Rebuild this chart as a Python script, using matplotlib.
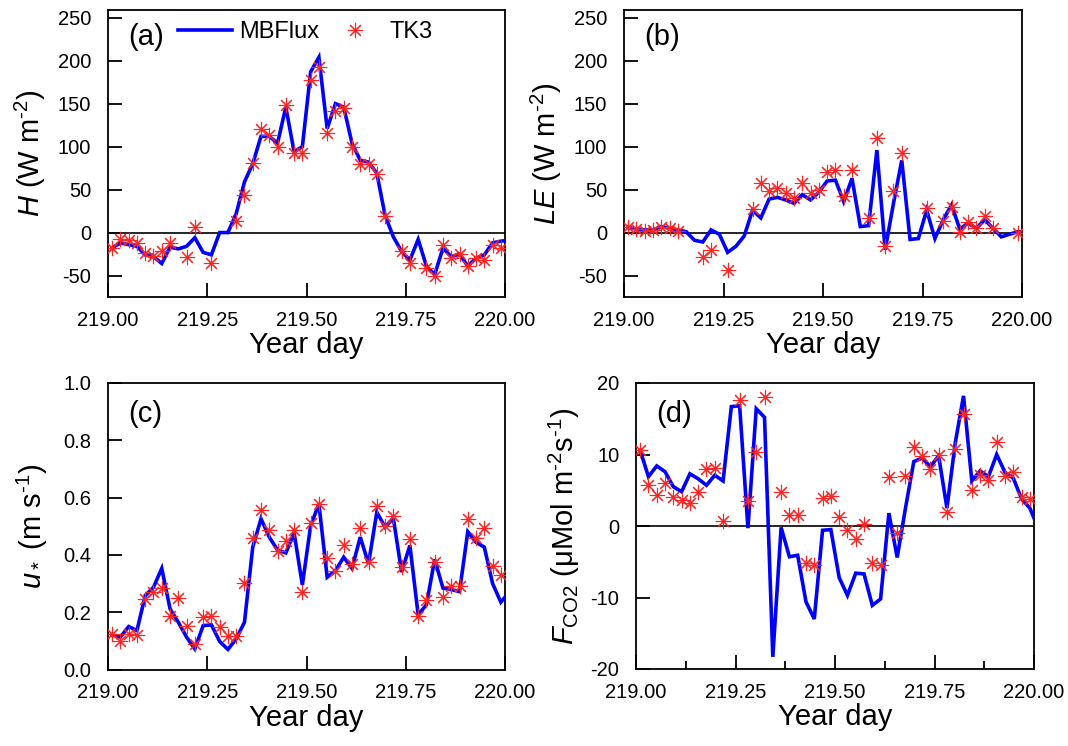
import numpy as np
import matplotlib
matplotlib.use("Agg")
import matplotlib.pyplot as plt
from matplotlib.ticker import MultipleLocator, FormatStrFormatter

plt.rcParams['font.family'] = ['Liberation Sans', 'DejaVu Sans']
plt.rcParams['mathtext.fontset'] = 'custom'
plt.rcParams['mathtext.rm'] = 'Liberation Sans'
plt.rcParams['mathtext.it'] = 'Liberation Sans:italic'
plt.rcParams['mathtext.bf'] = 'Liberation Sans:bold'

nan = np.nan
# half-hourly time stamps (centre of each 30-min interval)
time_line = 219 + (np.arange(49) + 0.5) / 48
time_pts = time_line[:48]

H_mbflux = [-18, -12, -14, -16, -26, -28, -36, -17, -19, -16,
            -6, -23, -26, 0, 0, 22, 59, 80, 112, 112,
            104, 146, 94, 100, 187, 204, 121, 150, 146, 104,
            84, 82, 69, 20, -5, -22, -32, -8, -39, -49,
            -18, -28, -25, -39, -30, -26, -12, -10, -9]
H_tk3 = [-18, -8, -9, -12, -24, -27, -21, -12, nan, -28,
         7, nan, -36, nan, nan, 13, 44, 81, 120, 114,
         100, 148, 92, 92, 177, 193, 116, 142, 145, 100,
         80, 80, 68, 19, nan, -22, -36, nan, -41, -50,
         -14, -30, -25, -39, -30, -32, -14, -18]

LE_mbflux = [6, 4, 3, 3, 7, 5, 3, 1, -9, -11,
             3, -2, -23, -16, -4, 26, 17, 39, 41, 38,
             34, 44, 38, 47, 60, 61, 36, 63, 7, 8,
             96, -20, 34, 84, -8, -7, 26, -7, 15, 32,
             4, 11, 5, 15, 5, -5, -2, 1, 1]
LE_tk3 = [6, 4, 2, 3, 6, 5, 2, nan, nan, -29,
          -20, nan, -43, nan, nan, 27, 58, 48, 52, 46,
          40, 58, 46, 50, 71, 73, 42, 73, nan, 17,
          110, -16, 48, 93, nan, nan, 28, nan, 14, 30,
          1, 12, 5, 19, 5, nan, nan, 0]

u_mbflux = [0.121, 0.113, 0.150, 0.136, 0.258, 0.287, 0.353, 0.212, 0.165, 0.113,
            0.072, 0.153, 0.156, 0.098, 0.070, 0.107, 0.165, 0.427, 0.526, 0.462,
            0.417, 0.407, 0.477, 0.295, 0.502, 0.578, 0.322, 0.345, 0.392, 0.353,
            0.462, 0.369, 0.549, 0.497, 0.528, 0.340, 0.433, 0.191, 0.226, 0.384,
            0.284, 0.279, 0.272, 0.481, 0.444, 0.427, 0.300, 0.235, 0.270]
u_tk3 = [0.124, 0.101, 0.124, 0.121, 0.247, 0.272, 0.284, 0.188, 0.249, 0.153,
         0.090, 0.183, 0.188, 0.150, 0.116, 0.116, 0.302, 0.458, 0.558, 0.488,
         0.415, 0.447, 0.487, 0.270, 0.510, 0.578, 0.388, 0.345, 0.435, 0.369,
         0.493, 0.374, 0.572, 0.500, 0.537, 0.359, 0.457, 0.186, 0.241, 0.374,
         0.252, 0.291, 0.291, 0.526, 0.458, 0.493, 0.360, 0.330]

F_mbflux = [10.6, 6.9, 8.4, 7.6, 5.5, 4.8, 7.3, 6.6, 5.7, 7.1,
            6.3, 16.7, 16.8, -0.3, 16.4, 15.2, -18.3, -0.2, -4.3, -4.1,
            -10.6, -13.0, -0.6, -0.5, -7.2, -9.7, -6.6, -6.7, -11.1, -10.2,
            1.8, -4.4, 2.5, 9.0, 9.5, 8.3, 9.8, 2.5, 11.6, 18.2,
            6.3, 7.7, 6.9, 10.0, 7.5, 6.7, 3.8, 2.5, -0.3]
F_tk3 = [10.6, 5.8, 4.3, 6.0, 4.0, 3.6, 3.2, 4.8, 8.0, 8.1,
         0.7, nan, 17.6, 3.5, 10.3, 18.1, nan, 4.8, 1.6, 1.6,
         -5.2, -5.5, 3.9, 4.2, 1.2, -0.6, -1.8, 0.3, -5.2, -5.4,
         6.9, -1.0, 7.0, 11.0, 9.8, 8.0, 10.0, 2.0, 10.8, 15.6,
         5.0, 7.1, 6.4, 11.8, 7.0, 7.5, 4.0, 3.8]

x_ticks = [219.00, 219.25, 219.50, 219.75, 220.00]

W, Hh = 1068, 746
fig = plt.figure(figsize=(W / 100, Hh / 100), dpi=100)

def px_axes(l, r, t, b):
    return fig.add_axes([l / W, 1 - b / Hh, (r - l) / W, (b - t) / Hh])

ax_a = px_axes(108, 505, 10, 297)
ax_b = px_axes(624, 1022, 10, 297)
ax_c = px_axes(108, 505, 383, 669.5)
ax_d = px_axes(636, 1034, 383, 669)

LINE_KW = dict(color='#0000ff', lw=2.6, solid_joinstyle='miter', zorder=3)
MARK_KW = dict(ls='none', marker=(8, 2, 0), ms=11, mew=0.8, color='#ff2424', zorder=4)

panels = [
    (ax_a, H_mbflux, H_tk3, (-75, 259), 50, '(a)', r'$\mathit{H}$ (W m$^{\text{-2}}$)', -0.152, True, '%d', 0.906),
    (ax_b, LE_mbflux, LE_tk3, (-75, 259), 50, '(b)', r'$\mathit{LE}$ (W m$^{\text{-2}}$)', -0.152, True, '%d', 0.906),
    (ax_c, u_mbflux, u_tk3, (0, 1.0), 0.2, '(c)', r'$u_*$ (m s$^{\text{-1}}$)', -0.145, False, '%.1f', 0.893),
    (ax_d, F_mbflux, F_tk3, (-20, 20), 10, '(d)', r'$F_{\mathrm{CO2}}$ ($\mathrm{\mu}$Mol m$^{\text{-2}}$s$^{\text{-1}}$)', -0.135, True, '%d', 0.893),
]

for ax, yl, ym, ylim, ystep, letter, ylabel, ylx, zero, yfmt, ly in panels:
    l1, = ax.plot(time_line, yl, label='MBFlux', **LINE_KW)
    m1, = ax.plot(time_pts, ym, label='TK3', **MARK_KW)
    if zero:
        ax.axhline(0, color='black', lw=1.2, zorder=2)
    ax.set_xlim(219, 220)
    ax.set_ylim(*ylim)
    ax.set_xticks(x_ticks)
    ax.xaxis.set_major_formatter(FormatStrFormatter('%.2f'))
    ax.yaxis.set_major_locator(MultipleLocator(ystep))
    ax.yaxis.set_major_formatter(FormatStrFormatter(yfmt))
    ax.tick_params(direction='in', length=10, width=1.3, labelsize=14.5,
                   top=False, right=False)
    ax.tick_params(axis='x', pad=10)
    ax.tick_params(axis='y', pad=12)
    for s in ax.spines.values():
        s.set_linewidth(1.3)
    ax.set_xlabel('Year day', fontsize=21, labelpad=1)
    ax.set_ylabel(ylabel, fontsize=21)
    ax.yaxis.set_label_coords(ylx, 0.5)
    ax.text(0.05, ly, letter, transform=ax.transAxes, fontsize=21,
            ha='left', va='center')
    if ax is ax_a:
        ax.legend(handles=[l1, m1], loc='center left', ncol=2, frameon=False,
                  fontsize=17, handlelength=2.3, handletextpad=0.3,
                  columnspacing=0.35, borderpad=0, borderaxespad=0,
                  numpoints=1, bbox_to_anchor=(0.176, 0.923))

ax_d.xaxis.set_minor_locator(MultipleLocator(0.125))
ax_d.tick_params(which='minor', direction='in', length=6, width=1.3)

fig.savefig('out.png', dpi=100)
